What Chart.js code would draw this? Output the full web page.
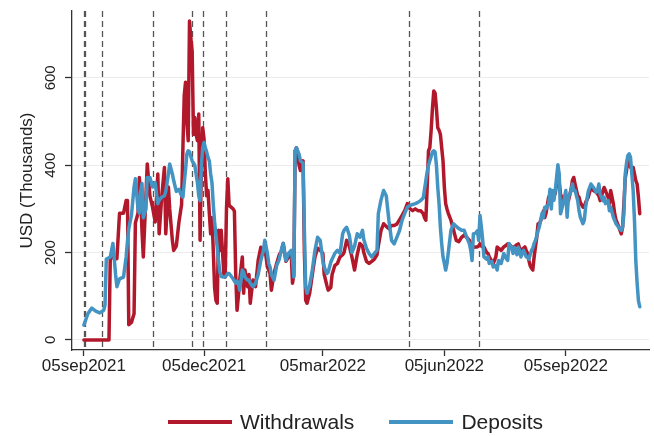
<!DOCTYPE html>
<html><head><meta charset="utf-8">
<script src="https://cdn.jsdelivr.net/npm/chart.js@4.4.1/dist/chart.umd.min.js"></script>
<style>
html,body{margin:0;padding:0;background:#fff;overflow:hidden}
#wrap{position:relative;width:654px;height:436px}
#legend{position:absolute;left:168px;top:408px;height:28px;display:flex;align-items:center;font-family:"Liberation Sans",Arial,sans-serif;font-size:21px;color:#222;white-space:nowrap}
.item{display:flex;align-items:center}
.sw{width:64px;height:4px;margin-right:8px}
</style></head><body>
<div id="wrap"><canvas id="c" width="654" height="436"></canvas><div id="legend"></div></div>
<script>
const seriesNames = ["Withdrawals", "Deposits"];
const seriesColors = ["#b2182b", "#4393c3"];
const dates = [
"2021-09-05","2021-09-08","2021-09-11","2021-09-14","2021-09-17","2021-09-20","2021-09-21","2021-09-22","2021-09-24","2021-09-25",
"2021-09-27","2021-09-29","2021-09-30","2021-10-02","2021-10-05","2021-10-07","2021-10-08","2021-10-09","2021-10-11","2021-10-13",
"2021-10-14","2021-10-16","2021-10-17","2021-10-18","2021-10-19","2021-10-20","2021-10-22","2021-10-23","2021-10-25","2021-10-27",
"2021-10-29","2021-10-31","2021-11-01","2021-11-03","2021-11-05","2021-11-06","2021-11-08","2021-11-09","2021-11-11","2021-11-12",
"2021-11-14","2021-11-16","2021-11-18","2021-11-19","2021-11-20","2021-11-21","2021-11-22","2021-11-23","2021-11-24","2021-11-25",
"2021-11-26","2021-11-27","2021-11-28","2021-11-29","2021-11-30","2021-12-01","2021-12-02","2021-12-03","2021-12-04","2021-12-05",
"2021-12-06","2021-12-07","2021-12-08","2021-12-09","2021-12-10","2021-12-11","2021-12-12","2021-12-13","2021-12-14","2021-12-15",
"2021-12-16","2021-12-17","2021-12-18","2021-12-20","2021-12-21","2021-12-22","2021-12-23","2021-12-24","2021-12-27","2021-12-28",
"2021-12-29","2021-12-30","2021-12-31","2022-01-01","2022-01-03","2022-01-04","2022-01-05","2022-01-07","2022-01-08","2022-01-09",
"2022-01-11","2022-01-13","2022-01-15","2022-01-17","2022-01-19","2022-01-20","2022-01-22","2022-01-23","2022-01-24","2022-01-25",
"2022-01-27","2022-01-29","2022-01-31","2022-02-02","2022-02-03","2022-02-05","2022-02-07","2022-02-09","2022-02-10","2022-02-11",
"2022-02-12","2022-02-13","2022-02-15","2022-02-16","2022-02-18","2022-02-19","2022-02-20","2022-02-21","2022-02-23","2022-02-25",
"2022-02-27","2022-03-01","2022-03-03","2022-03-05","2022-03-06","2022-03-08","2022-03-09","2022-03-11","2022-03-12","2022-03-14",
"2022-03-16","2022-03-18","2022-03-20","2022-03-21","2022-03-23","2022-03-25","2022-03-27","2022-03-29","2022-03-31","2022-04-02",
"2022-04-04","2022-04-05","2022-04-07","2022-04-09","2022-04-11","2022-04-13","2022-04-15","2022-04-16","2022-04-18","2022-04-20",
"2022-04-22","2022-04-24","2022-04-26","2022-04-28","2022-04-30","2022-05-02","2022-05-04","2022-05-06","2022-05-08","2022-05-10",
"2022-05-12","2022-05-14","2022-05-16","2022-05-18","2022-05-20","2022-05-21","2022-05-22","2022-05-23","2022-05-24","2022-05-25",
"2022-05-26","2022-05-27","2022-05-28","2022-05-29","2022-05-30","2022-05-31","2022-06-01","2022-06-02","2022-06-03","2022-06-04",
"2022-06-05","2022-06-06","2022-06-07","2022-06-08","2022-06-10","2022-06-12","2022-06-14","2022-06-16","2022-06-18","2022-06-20",
"2022-06-22","2022-06-24","2022-06-25","2022-06-26","2022-06-27","2022-06-29","2022-06-30","2022-07-01","2022-07-02","2022-07-03",
"2022-07-04","2022-07-05","2022-07-07","2022-07-08","2022-07-09","2022-07-11","2022-07-12","2022-07-14","2022-07-15","2022-07-16",
"2022-07-18","2022-07-20","2022-07-21","2022-07-23","2022-07-24","2022-07-26","2022-07-27","2022-07-28","2022-07-30","2022-07-31",
"2022-08-01","2022-08-02","2022-08-04","2022-08-05","2022-08-06","2022-08-07","2022-08-08","2022-08-09","2022-08-10","2022-08-11",
"2022-08-12","2022-08-13","2022-08-14","2022-08-15","2022-08-16","2022-08-18","2022-08-19","2022-08-20","2022-08-21","2022-08-23",
"2022-08-24","2022-08-25","2022-08-26","2022-08-27","2022-08-28","2022-08-30","2022-08-31","2022-09-01","2022-09-03","2022-09-05",
"2022-09-06","2022-09-07","2022-09-09","2022-09-10","2022-09-11","2022-09-12","2022-09-14","2022-09-15","2022-09-16","2022-09-18",
"2022-09-19","2022-09-20","2022-09-22","2022-09-24","2022-09-26","2022-09-28","2022-09-29","2022-09-30","2022-10-01","2022-10-03",
"2022-10-04","2022-10-05","2022-10-07","2022-10-08","2022-10-09","2022-10-11","2022-10-12","2022-10-13","2022-10-15","2022-10-17",
"2022-10-18","2022-10-19","2022-10-20","2022-10-21","2022-10-22","2022-10-23","2022-10-24","2022-10-26","2022-10-27","2022-10-28",
"2022-10-29","2022-10-30","2022-10-31"
];
const withdrawals = [
0,0,0,0,0,0,0,0,0,190,
188,186,186,290,290,319,319,35,40,60,
268,290,372,330,250,190,330,403,330,304,
270,380,243,330,395,243,350,300,228,205,
215,270,310,440,560,590,500,456,730,690,
661,471,509,470,456,517,228,400,486,460,
380,330,342,290,243,280,205,120,91,84,
251,205,251,152,144,300,369,308,300,295,
150,68,100,137,190,107,160,122,150,84,
137,122,182,212,198,212,167,160,152,114,
152,175,195,205,221,180,190,198,130,150,
433,440,400,388,410,200,91,84,107,150,
190,210,205,198,150,125,114,120,150,170,
175,190,195,200,228,215,190,160,195,221,
215,200,180,175,180,185,195,215,250,266,
260,255,262,262,265,275,285,296,312,300,
296,300,296,296,289,280,274,350,433,440,
480,530,570,565,530,486,480,471,440,410,
350,312,300,290,274,251,228,225,235,240,
235,228,220,215,212,213,213,215,220,215,
213,213,200,198,190,180,175,190,213,210,
205,213,215,220,218,213,213,213,218,220,
210,205,210,213,205,198,182,170,164,160,
190,213,235,266,266,281,295,280,290,327,
320,327,340,330,335,380,360,334,319,325,
320,319,345,365,372,357,330,327,315,304,
304,315,327,349,342,338,334,330,319,340,
349,342,327,312,342,312,289,275,260,243,
258,312,370,388,418,410,395,395,380,365,
357,327,289
];
const deposits = [
34,60,73,66,62,68,80,185,188,190,
221,150,122,140,144,190,225,255,285,350,
369,300,290,340,358,280,300,372,372,350,
360,312,320,327,330,340,380,403,380,365,
340,345,330,327,360,390,426,433,430,420,
410,405,400,380,360,330,319,400,440,452,
440,430,418,410,380,360,310,270,240,212,
180,155,145,144,144,148,152,152,140,135,
130,135,130,114,160,155,144,137,137,130,
122,130,150,182,205,228,198,175,167,150,
137,170,185,212,221,182,198,205,182,144,
433,440,425,410,405,250,122,107,125,160,
205,235,228,180,167,152,155,178,185,198,
205,198,243,251,258,240,200,215,243,235,
251,230,210,198,190,198,205,289,320,342,
330,274,228,220,235,250,274,290,304,308,
310,312,315,319,325,345,365,385,400,410,
420,430,433,430,400,350,312,258,220,190,
175,160,175,200,251,266,260,255,251,251,
235,220,205,182,243,245,250,228,285,260,
230,190,185,190,175,180,167,170,160,182,
175,198,190,182,221,212,198,212,195,212,
205,190,205,198,190,190,185,195,205,210,
221,228,238,250,260,290,280,304,300,312,
345,300,342,320,342,401,380,289,312,342,
281,327,342,357,342,342,319,296,281,266,
274,304,340,357,349,338,342,357,334,319,
327,312,319,296,304,281,274,266,258,251,
258,289,380,405,422,426,418,342,274,182,
130,90,76
];
const eventDates = ["2021-09-05","2021-09-06","2021-09-19","2021-10-27","2021-11-26","2021-12-04","2021-12-22","2022-01-21","2022-05-09","2022-07-01"];
const tickDates = ["2021-09-05","2021-12-05","2022-03-05","2022-06-05","2022-09-05"];
const tickLabels = ["05sep2021","05dec2021","05mar2022","05jun2022","05sep2022"];
const yTicks = [0, 200, 400, 600];
const yTitle = "USD (Thousands)";

const FONT = '"Liberation Sans", Arial, Helvetica, sans-serif';
const day = s => Date.parse(s + "T00:00:00Z") / 86400000;
const pts = vals => dates.map((d, i) => ({x: day(d), y: vals[i]}));

const eventLines = {
  id: 'eventLines',
  beforeDatasetsDraw(chart) {
    const {ctx, chartArea: {top, bottom}, scales: {x}} = chart;
    ctx.save();
    ctx.strokeStyle = '#555';
    ctx.lineWidth = 1.3;
    ctx.setLineDash([6, 4]);
    eventDates.forEach(s => {
      const px = Math.round(x.getPixelForValue(day(s))) + 0.5;
      ctx.beginPath(); ctx.moveTo(px, top); ctx.lineTo(px, bottom); ctx.stroke();
    });
    ctx.restore();
  }
};

new Chart(document.getElementById('c'), {
  type: 'line',
  data: {
    datasets: [
      {label: seriesNames[0], data: pts(withdrawals), borderColor: seriesColors[0], backgroundColor: seriesColors[0], borderWidth: 3.5, pointRadius: 0, tension: 0, order: 1, borderJoinStyle: 'round', borderCapStyle: 'round'},
      {label: seriesNames[1], data: pts(deposits), borderColor: seriesColors[1], backgroundColor: seriesColors[1], borderWidth: 3.5, pointRadius: 0, tension: 0, order: 0, borderJoinStyle: 'round', borderCapStyle: 'round'}
    ]
  },
  options: {
    responsive: false,
    animation: false,
    devicePixelRatio: 1,
    layout: {padding: {top: 10, right: 5, bottom: 56, left: 0}},
    plugins: {legend: {display: false}, tooltip: {enabled: false}},
    scales: {
      x: {
        type: 'linear',
        min: day("2021-08-27"),
        max: day("2022-11-07"),
        afterBuildTicks: s => { s.ticks = tickDates.map(d => ({value: day(d)})); },
        afterFit: s => { s.height = 30; },
        grid: {drawOnChartArea: false, drawTicks: true, tickLength: 6, tickColor: '#333', tickWidth: 1.3},
        border: {display: true, color: '#333', width: 1.3},
        ticks: {callback: (v, i) => tickLabels[i], autoSkip: false, maxRotation: 0, minRotation: 0, padding: 0, color: '#222', font: {family: FONT, size: 17}}
      },
      y: {
        min: -23,
        max: 753,
        afterBuildTicks: s => { s.ticks = yTicks.map(v => ({value: v})); },
        afterFit: s => { s.width = 72; },
        grid: {color: '#ececec', lineWidth: 1, drawTicks: true, tickLength: 7, tickColor: '#333', tickWidth: 1.3},
        border: {display: true, color: '#333', width: 1.3},
        ticks: {minRotation: 90, maxRotation: 90, crossAlign: 'center', padding: 2, color: '#222', font: {family: FONT, size: 15}},
        title: {display: true, text: yTitle, color: '#222', font: {family: FONT, size: 17}, padding: {top: 17, bottom: 0}}
      }
    }
  },
  plugins: [eventLines]
});

const lg = document.getElementById('legend');
seriesNames.forEach((n, i) => {
  const it = document.createElement('div');
  it.className = 'item';
  if (i > 0) it.style.marginLeft = '35px';
  const sw = document.createElement('div');
  sw.className = 'sw';
  sw.style.background = seriesColors[i];
  const t = document.createElement('span');
  t.textContent = n;
  it.appendChild(sw); it.appendChild(t);
  lg.appendChild(it);
});
</script>
</body></html>
